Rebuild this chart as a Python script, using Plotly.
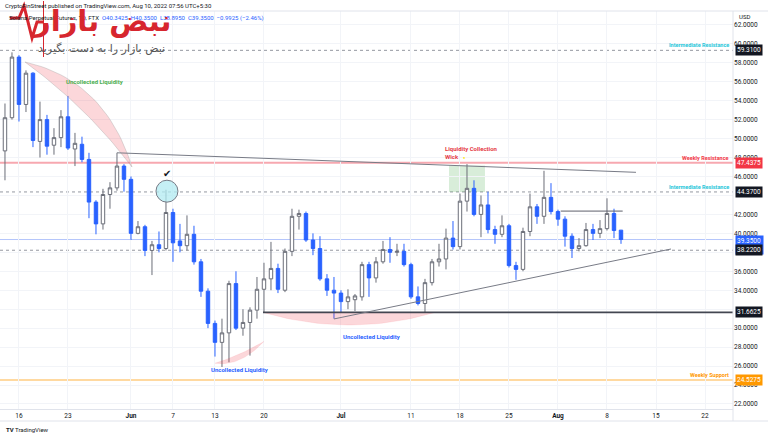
import numpy as np
import pandas as pd
import plotly.graph_objects as go

# ---------------- data ----------------
dates = pd.date_range("2022-05-14", "2022-08-10", freq="D")

opens = [48.7, 52.2, 58.6, 53.6, 56.9, 49.7, 52.0, 49.3, 50.1, 52.3, 48.9, 49.4, 47.8, 43.3, 41.0, 44.1, 44.8, 47.1,
         45.7, 40.0, 40.7, 38.2, 38.8, 38.4, 42.2, 39.2, 38.7, 39.9, 37.0, 33.9, 30.5, 28.5, 29.5, 34.7, 30.0, 30.6,
         31.9, 34.1, 35.2, 36.3, 34.0, 38.1, 41.8, 42.1, 39.3, 38.4, 35.2, 34.0,
         33.7, 32.8, 33.0, 33.3, 36.7, 35.3, 37.0, 38.3, 38.0, 38.1, 36.7, 33.3, 32.6, 34.8, 37.0, 37.3, 39.5, 38.6,
         43.4, 44.75, 42.0, 43.0, 40.4, 39.9, 40.8, 36.6, 36.2, 40.2, 42.8, 41.8, 43.8,
         42.3, 41.5, 39.7, 38.4, 38.7, 40.4, 40.0, 40.5, 42.1, 40.34]
highs = [53.7, 59.1, 58.8, 57.2, 57.0, 53.9, 52.5, 51.1, 53.0, 54.5, 50.6, 50.2, 48.5, 43.5, 44.7, 45.4, 48.5, 47.3,
         46.0, 41.3, 40.9, 39.2, 40.2, 44.6, 42.6, 41.0, 41.9, 40.8, 37.3, 34.2, 30.8, 31.0, 35.0, 36.0, 32.0, 32.2,
         35.4, 36.9, 39.1, 36.8, 38.4, 42.6, 42.5, 42.3, 40.0, 39.7, 35.7, 35.4,
         34.0, 34.1, 33.6, 37.0, 37.0, 37.5, 39.2, 39.6, 38.9, 38.9, 36.9, 34.4, 35.2, 37.3, 38.9, 40.5, 41.3, 44.2,
         47.3, 45.6, 44.0, 44.4, 40.8, 41.9, 41.0, 37.0, 40.6, 44.2, 43.1, 46.6, 45.3,
         42.5, 41.8, 40.0, 39.5, 41.1, 41.0, 41.4, 43.7, 42.6, 40.35]
lows = [45.6, 52.0, 51.8, 52.8, 49.1, 48.0, 48.3, 48.3, 49.1, 48.8, 47.1, 47.5, 41.6, 39.9, 40.4, 42.6, 44.5, 44.4,
        39.3, 39.9, 37.6, 35.6, 38.0, 38.2, 37.0, 38.0, 38.2, 36.7, 33.3, 30.0, 27.0, 25.9, 26.4, 29.8, 29.2, 27.1,
        31.0, 31.6, 34.0, 33.7, 33.8, 37.6, 40.4, 39.1, 37.7, 35.0, 33.4, 31.0,
        31.7, 32.0, 31.8, 32.9, 33.3, 34.8, 36.8, 36.9, 37.6, 36.5, 33.1, 32.4, 31.7, 34.5, 36.5, 36.2, 38.3, 38.3,
        42.3, 41.8, 39.6, 40.0, 38.9, 39.6, 36.4, 35.1, 36.0, 39.7, 41.0, 41.0, 42.0,
        40.8, 38.6, 37.4, 38.1, 38.6, 39.3, 39.5, 40.3, 39.5, 38.895]
closes = [52.2, 58.6, 53.6, 56.9, 49.8, 52.0, 49.2, 50.1, 52.3, 49.0, 49.5, 47.8, 43.3, 41.0, 44.1, 44.8, 47.1, 45.7,
          40.0, 40.7, 38.2, 38.8, 38.4, 42.2, 39.0, 38.7, 39.9, 37.0, 33.9, 30.5, 28.5, 29.5, 34.7, 30.0, 30.6, 31.9,
          34.1, 35.2, 36.3, 34.1, 38.1, 41.8, 42.1, 39.3, 38.4, 35.2, 34.0, 33.7,
          32.8, 33.3, 33.4, 36.7, 35.3, 37.0, 38.3, 38.0, 38.1, 36.7, 33.3, 32.6, 34.8, 37.0, 37.3, 39.5, 38.6, 43.4,
          44.75, 42.0, 43.0, 40.4, 39.9, 40.8, 36.6, 36.2, 40.2, 42.8, 41.8, 43.8, 42.3,
          41.5, 39.7, 38.4, 38.7, 40.4, 40.0, 40.5, 42.1, 40.3, 39.35]

tick_dates = ["2022-05-16", "2022-05-23", "2022-06-01", "2022-06-07", "2022-06-13", "2022-06-20", "2022-07-01",
              "2022-07-11", "2022-07-18", "2022-07-25", "2022-08-01", "2022-08-08", "2022-08-15", "2022-08-22"]
tick_text = ["16", "23", "<b>Jun</b>", "7", "13", "20", "<b>Jul</b>", "11", "18", "25", "<b>Aug</b>", "8", "15", "22"]
price_ticks = list(range(22, 63, 2))
hidden_price_ticks = [32, 38, 44]   # covered by the level boxes on the price scale

levels = {"int_res_hi": 59.31, "weekly_res": 47.4375, "int_res_lo": 44.37, "last": 39.35,
          "mid": 38.22, "support_line": 31.6625, "weekly_sup": 24.5275}

# ---------------- helpers ----------------
BASE = pd.Timestamp("2022-06-01")
W, H = 768, 437
L, R, T, B = 0, 35, 11, 28
PW, PH = W - L - R, H - T - B


def day(d):
    return BASE + pd.Timedelta(days=d)


def px(x):  # pixel -> paper x
    return (x - L) / PW


def py(y):  # pixel -> paper y
    return (H - B - y) / PH


def bez(p0, c, p2, n=30):
    t = np.linspace(0, 1, n)
    xs = (1 - t) ** 2 * p0[0] + 2 * t * (1 - t) * c[0] + t ** 2 * p2[0]
    ys = (1 - t) ** 2 * p0[1] + 2 * t * (1 - t) * c[1] + t ** 2 * p2[1]
    return xs, ys


fig = go.Figure()


def crescent(outer, inner, fill, line):
    xo, yo = bez(*outer)
    xi, yi = bez(*inner)
    xs = np.concatenate([xo, xi[::-1]])
    ys = np.concatenate([yo, yi[::-1]])
    fig.add_trace(go.Scatter(x=[day(v) for v in xs], y=ys, mode="lines", fill="toself",
                             fillcolor=fill, line=dict(color=line, width=0.6),
                             hoverinfo="skip", showlegend=False))


pink = "rgba(242,54,69,0.20)"
crescent(((-15.14, 58.08), (-3.71, 56.18), (0.14, 47.0)),
         ((-15.14, 58.08), (-6.14, 53.22), (0.14, 47.0)), pink, "rgba(160,160,160,0.6)")
crescent(((12.0, 26.3), (15.57, 25.9), (19.0, 28.6)),
         ((12.0, 26.3), (15.57, 27.1), (19.0, 28.6)), pink, "rgba(242,54,69,0.15)")
crescent(((18.86, 31.66), (31.29, 29.0), (43.43, 31.66)),
         ((18.86, 31.66), (31.29, 31.66), (43.43, 31.66)), pink, "rgba(242,54,69,0.15)")

fig.add_trace(go.Candlestick(
    x=dates, open=opens, high=highs, low=lows, close=closes,
    increasing=dict(line=dict(color="#6b6e78", width=1), fillcolor="#ffffff"),
    decreasing=dict(line=dict(color="#2962ff", width=1), fillcolor="#2962ff"),
    whiskerwidth=0, showlegend=False, hoverinfo="skip"))

shapes = []


def hline(v, color, width, dash="solid", x0=0, x1=1):
    shapes.append(dict(type="line", xref="paper", yref="y", x0=x0, x1=x1, y0=v, y1=v,
                       line=dict(color=color, width=width, dash=dash), layer="below"))


hline(levels["int_res_hi"], "#9598a1", 1, "dot")
hline(levels["weekly_res"], "#f7a8b0", 2)
hline(levels["int_res_lo"], "#9598a1", 1, "dot")
hline(levels["last"], "#b4c6fb", 1)
hline(levels["mid"], "#9598a1", 1, "dot")
hline(levels["weekly_sup"], "#ffcc80", 1.5)
shapes.append(dict(type="line", xref="x", yref="y", x0=day(18.86), x1=day(86.0),
                   y0=levels["support_line"], y1=levels["support_line"],
                   line=dict(color="#434651", width=1.6)))

# trendlines
shapes.append(dict(type="line", xref="x", yref="y", x0="2022-05-30", y0=48.5, x1=day(72.14), y1=46.44,
                   line=dict(color="#787b86", width=1)))
shapes.append(dict(type="line", xref="x", yref="y", x0="2022-06-30", y0=30.97, x1=day(77.14), y1=38.35,
                   line=dict(color="#787b86", width=1)))
shapes.append(dict(type="line", xref="x", yref="y", x0=day(61.39), y0=42.35, x1=day(70.24), y1=42.35,
                   line=dict(color="#5d606b", width=1)))

# green box
shapes.append(dict(type="rect", xref="x", yref="y", x0=day(45.43), x1=day(50.57), y0=44.37, y1=47.15,
                   fillcolor="rgba(76,175,80,0.22)", line=dict(width=0), layer="below"))
# circle
shapes.append(dict(type="circle", xref="x", yref="y", x0=day(5.14 - 1.57), x1=day(5.14 + 1.57),
                   y0=44.45 - 1.16, y1=44.45 + 1.16,
                   fillcolor="rgba(178,235,242,0.75)", line=dict(color="#787b86", width=1)))

# pane borders
shapes.append(dict(type="line", xref="paper", yref="paper", x0=0, x1=px(W), y0=py(T), y1=py(T),
                   line=dict(color="#e0e3eb", width=1)))
shapes.append(dict(type="line", xref="paper", yref="paper", x0=1, x1=1, y0=py(T), y1=py(421),
                   line=dict(color="#e0e3eb", width=1)))
shapes.append(dict(type="line", xref="paper", yref="paper", x0=0, x1=px(W), y0=py(421), y1=py(421),
                   line=dict(color="#e0e3eb", width=1)))
# logo heartbeat
shapes.append(dict(type="path", xref="paper", yref="paper",
                   path="M {:.4f},{:.4f} L {:.4f},{:.4f} L {:.4f},{:.4f} L {:.4f},{:.4f} L {:.4f},{:.4f} L {:.4f},{:.4f}".format(
                       px(10), py(18), px(19), py(18), px(24), py(6), px(32), py(38), px(37), py(22), px(43), py(22)),
                   line=dict(color="#d7262e", width=3)))
shapes.append(dict(type="line", xref="paper", yref="paper", x0=px(43.5), x1=px(43.5), y0=py(1), y1=py(57),
                   line=dict(color="#d7262e", width=1)))

ann = []


def box(v, text, bg, yshift=0, yanchor="middle"):
    ann.append(dict(xref="paper", yref="y", x=1, y=v, xanchor="left", yanchor=yanchor, xshift=2, yshift=yshift,
                    text=text, showarrow=False, bgcolor=bg, borderpad=1,
                    font=dict(family="Roboto, Arial", size=6.5, color="white"), align="left"))


box(levels["int_res_hi"], "59.3100", "#131722")
box(levels["weekly_res"], "47.4375", "#f23645")
box(levels["int_res_lo"], "44.3700", "#131722")
box(levels["last"], "39.3500<br>21:33:18", "#2962ff", yshift=5, yanchor="top")
box(levels["mid"], "38.2200", "#131722")
box(levels["support_line"], "31.6625", "#131722")
box(levels["weekly_sup"], "24.5275", "#ff9800")


def lvl_label(v, text, color):
    ann.append(dict(xref="paper", yref="y", x=1, y=v, xanchor="right", yanchor="bottom", xshift=-2, yshift=0,
                    text="<b>" + text + "</b>", showarrow=False,
                    font=dict(family="Roboto, Arial", size=5.5, color=color)))


lvl_label(levels["int_res_hi"], "Intermediate Resistance", "#26c6da")
lvl_label(levels["weekly_res"], "Weekly Resistance", "#f23645")
lvl_label(levels["int_res_lo"], "Intermediate Resistance", "#26c6da")
lvl_label(levels["weekly_sup"], "Weekly Support", "#ff9800")


def note(xd, yv, text, color, size=6, xanchor="center"):
    ann.append(dict(xref="x", yref="y", x=xd, y=yv, text=text, showarrow=False, xanchor=xanchor, align="left",
                    font=dict(family="Roboto, Arial", size=size, color=color)))


note(day(-5.14), 56.07, "<b>Uncollected Liquidity</b>", "#4caf50")
note(day(15.57), 25.6, "<b>Uncollected Liquidity</b>", "#2962ff")
note(day(34.43), 29.07, "<b>Uncollected Liquidity</b>", "#2962ff")
note(day(44.6), 48.5, "<b>Liquidity Collection<br>Wick</b>", "#e53945", xanchor="left")
note(day(5.14), 46.3, "✔", "#131722", size=10)
ann.append(dict(xref="x", yref="y", x=day(47.7), y=48.05, text="●", showarrow=False,
                font=dict(size=4, color="#ffe600")))

# header / footer
ann.append(dict(xref="paper", yref="paper", x=px(3), y=py(5), xanchor="left", yanchor="middle", showarrow=False,
                text="CryptoFinStreet published on TradingView.com, Aug 10, 2022 07:56 UTC+5:30",
                font=dict(family="Roboto, Arial", size=6, color="#131722")))
ann.append(dict(xref="paper", yref="paper", x=px(7), y=py(18), xanchor="left", yanchor="middle", showarrow=False,
                text="Solana Perpetual Futures, 1D, FTX  <span style='color:#2962ff'>O40.3425  H40.3500  L38.8950  C39.3500  −0.9925 (−2.46%)</span>",
                font=dict(family="Roboto, Arial", size=6, color="#131722")))
ann.append(dict(xref="paper", yref="paper", x=px(4), y=py(429), xanchor="left", yanchor="middle", showarrow=False,
                text="<b>TV</b> TradingView", font=dict(family="Roboto, Arial", size=6, color="#131722")))
ann.append(dict(xref="paper", yref="paper", x=px(737), y=py(17), xanchor="left", yanchor="middle", showarrow=False,
                text="USD", font=dict(family="Roboto, Arial", size=6, color="#131722")))
# watermark logo text
ann.append(dict(xref="paper", yref="paper", x=px(102), y=py(21), xanchor="center", yanchor="middle", showarrow=False,
                text="<b>نبض بازار</b>", font=dict(family="DejaVu Sans", size=29, color="#d7262e")))
ann.append(dict(xref="paper", yref="paper", x=px(101), y=py(49), xanchor="center", yanchor="middle", showarrow=False,
                text="نبض بازار را به دست بگیرید", font=dict(family="DejaVu Sans", size=11, color="#555555")))

fig.update_layout(
    width=W, height=H, margin=dict(l=L, r=R, t=T, b=B),
    paper_bgcolor="white", plot_bgcolor="white",
    shapes=shapes, annotations=ann, showlegend=False,
    xaxis=dict(type="date", range=[day(-18.71), day(86.0)], tickvals=tick_dates, ticktext=tick_text,
               tickfont=dict(family="Roboto, Arial", size=6.5, color="#131722"),
               showgrid=True, gridcolor="#f2f4f8", gridwidth=1, zeroline=False,
               rangeslider=dict(visible=False), showline=True, linecolor="#e0e3eb", ticks=""),
    yaxis=dict(side="right", range=[21.47, 63.46], tickvals=price_ticks,
               ticktext=["" if v in hidden_price_ticks else "{:.4f}".format(v) for v in price_ticks],
               tickfont=dict(family="Roboto, Arial", size=6.5, color="#131722"),
               showgrid=True, gridcolor="#f2f4f8", gridwidth=1, zeroline=False, ticks="",
               showline=False),
)

fig.write_html("out.html")
